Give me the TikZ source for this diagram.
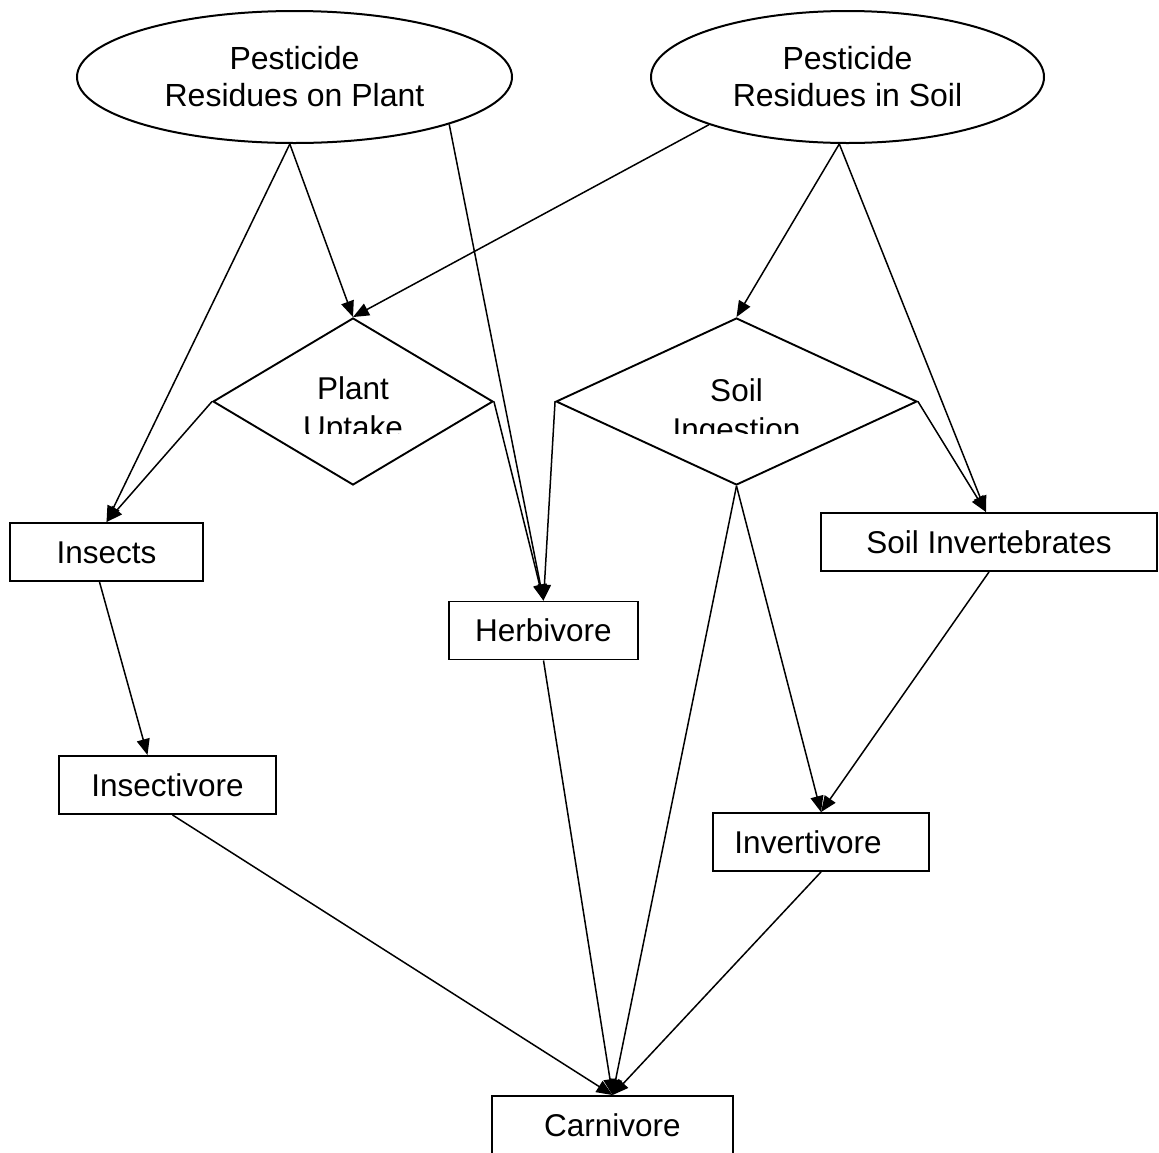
\documentclass[tikz,border=0pt]{standalone}
\usepackage{fontspec}
\setmainfont{Liberation Sans}
\usetikzlibrary{shapes.geometric,arrows.meta}
\begin{document}
\begin{tikzpicture}[x=1pt,y=-1pt,
  every node/.style={font=\fontsize{31.5}{37}\selectfont},
  source/.style={ellipse, draw, line width=2pt, minimum height=132pt, inner sep=0pt,
    align=center, font=\fontsize{32}{37}\selectfont},
  gate/.style={diamond, draw, line width=1.9pt, minimum height=167pt, inner sep=0pt},
  box/.style={rectangle, draw, line width=1.9pt, minimum height=58pt, inner sep=0pt,
    text height=22.6pt, text depth=0pt},
  flow/.style={line width=1.5pt, -{Triangle[length=16pt,width=13pt]}}
]
\useasboundingbox (0,0) rectangle (1159,1152);

% pesticide sources
\node[source, minimum width=435pt] (lp) at (294.5,77) {Pesticide\\Residues on Plant};
\node[source, minimum width=393pt] (ls) at (847.5,77) {Pesticide\\Residues in Soil};

% exposure routes
\node[gate, minimum width=280pt] (pu) at (353,401.5) {};
\node[gate, minimum width=361pt] (si) at (736.5,401.5) {};
\begin{scope}
  \clip (200,300) rectangle (960,433);
  \node[anchor=base] (put1) at (353,399) {Plant};
  \node[anchor=base] (put2) at (353,438) {Uptake};
  \node[anchor=base] (sit1) at (736.5,401) {Soil};
  \node[anchor=base] (sit2) at (736.5,440) {Ingestion};
\end{scope}

% receptors
\node[box, minimum width=193pt] (ins)  at (106.5,552) {Insects};
\node[box, minimum width=189pt] (herb) at (543.5,630.5) {Herbivore};
\node[box, minimum width=336pt] (sinv) at (989,542) {Soil Invertebrates};
\node[box, minimum width=217pt] (ict)  at (167.5,785) {Insectivore};
\node[box, minimum width=216pt] (inv)  at (821,842) {Invertivore\kern26pt};
\node[box, minimum width=241pt] (carn) at (612.5,1125) {Carnivore};

% transfer pathways
\draw[flow] (lp.266) -- (ins.north);
\draw[flow] (lp.266) -- (pu.north);
\draw[flow] (lp.343) -- (herb.north);
\draw[flow] (ls.199) -- (pu.north);
\draw[flow] (ls.263) -- (si.north);
\draw[flow] (ls.263) -- ([xshift=-3pt]sinv.north);
\draw[flow] (pu.west) -- (ins.north);
\draw[flow] (pu.east) -- (herb.north);
\draw[flow] (si.west) -- (herb.north);
\draw[flow] (si.east) -- ([xshift=-3pt]sinv.north);
\draw[flow] ([xshift=-7pt]ins.south) -- ([xshift=-20pt]ict.north);
\draw[flow] (si.south) -- (inv.north);
\draw[flow] (sinv.south) -- (inv.north);
\draw[flow] (si.south) -- (carn.north);
\draw[flow] (herb.south) -- (carn.north);
\draw[flow] ([xshift=5pt]ict.south) -- (carn.north);
\draw[flow] (inv.south) -- (carn.north);
\end{tikzpicture}
\end{document}
